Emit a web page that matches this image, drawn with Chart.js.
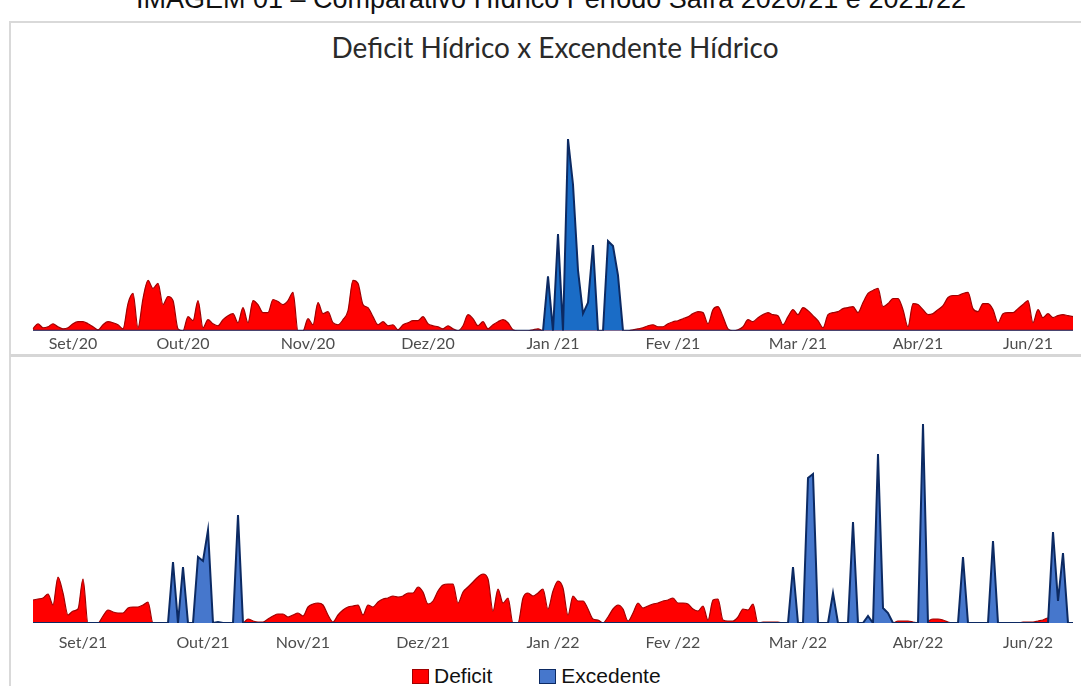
<!DOCTYPE html>
<html>
<head>
<meta charset="utf-8">
<script src="https://cdn.jsdelivr.net/npm/chart.js@4.4.1/dist/chart.umd.min.js"></script>
<style>
html,body{margin:0;padding:0;width:1081px;height:686px;overflow:hidden;background:#fff;}
#caption{position:absolute;left:0;width:1102px;top:-16px;text-align:center;font:27px "Liberation Sans",Arial,sans-serif;color:#111;white-space:nowrap;line-height:31px;}
#frame{position:absolute;left:9px;top:21px;width:1080px;height:700px;border-left:2px solid #d9d9d9;border-top:2px solid #d9d9d9;}
#title{position:absolute;left:0;width:1110px;top:33px;text-align:center;font:28px Lato,sans-serif;line-height:28px;color:#2a2a2a;white-space:nowrap;}
#sep{position:absolute;left:10px;top:354px;width:1071px;height:3px;background:#d6d6d6;}
#c1{position:absolute;left:0;top:0;width:1081px;height:360px;}
#c2{position:absolute;left:0;top:358px;width:1081px;height:300px;}
#legend{position:absolute;left:412px;top:665px;height:22px;display:flex;align-items:center;font:21px "Liberation Sans",Arial,sans-serif;color:#111;white-space:nowrap;}
#legend .item{display:flex;align-items:center;margin-right:47px;}
#legend .box{width:15px;height:13px;margin-right:5px;border-width:1.5px;border-style:solid;}
</style>
</head>
<body>
<div id="caption">IMAGEM 01 – Comparativo Hídrico Período Safra 2020/21 e 2021/22</div>
<div id="frame"></div>
<div id="title">Deficit Hídrico x Excendente Hídrico</div>
<div id="sep"></div>
<div id="c1"><canvas id="chart1"></canvas></div>
<div id="c2"><canvas id="chart2"></canvas></div>
<div id="legend"></div>
<script>
// ---- Safra 2020/21 (painel superior) ----
const topDeficit = [
  2,7,3,4,7,4,2,3,7,9,
  9,7,4,1,6,9,8,6,2,27,
  37,3,32,50,42,47,26,34,30,2,
  0,14,10,30,3,11,7,5,11,15,
  17,8,23,8,30,26,18,18,31,29,
  26,30,38,0,0,12,6,28,17,19,
  8,6,11,20,50,47,26,23,14,6,
  9,5,6,1,6,8,10,10,14,7,
  5,4,2,5,2,0,5,16,12,5,
  9,2,6,9,11,8,1,0,0,0,
  1,2,0,0,0,0,0,0,0,0,
  0,0,0,0,0,0,0,0,0,0,
  1,2,3,5,6,4,4,7,9,10,
  12,14,17,19,18,7,21,24,14,2,
  0,1,4,11,9,13,16,18,16,15,
  6,14,21,16,23,20,15,10,3,16,
  18,19,22,23,24,18,28,37,40,42,
  24,27,32,32,21,4,27,26,21,16,
  17,21,25,33,35,35,37,38,22,19,
  27,27,21,8,17,18,18,22,26,30,
  8,21,13,17,13,15,16,15,14
];
const topExcedente = [
  0,0,0,0,0,0,0,0,0,0,
  0,0,0,0,0,0,0,0,0,0,
  0,0,0,0,0,0,0,0,0,0,
  0,0,0,0,0,0,0,0,0,0,
  0,0,0,0,0,0,0,0,0,0,
  0,0,0,0,0,0,0,0,0,0,
  0,0,0,0,0,0,0,0,0,0,
  0,0,0,0,0,0,0,0,0,0,
  0,0,0,0,0,0,0,0,0,0,
  0,0,0,0,0,0,0,0,0,0,
  0,0,0,54,0,96,0,190,145,60,
  17,28,85,0,0,89,84,55,0,0,
  0,0,0,0,0,0,0,0,0,0,
  0,0,0,0,0,0,0,0,0,0,
  0,0,0,0,0,0,0,0,0,0,
  0,0,0,0,0,0,0,0,0,0,
  0,0,0,0,0,0,0,0,0,0,
  0,0,0,0,0,0,0,0,0,0,
  0,0,0,0,0,0,0,0,0,0,
  0,0,0,0,0,0,0,0,0,0,
  0,0,0,0,0,0,0,0,0
];
const topTickIdx = [8, 30, 55, 79, 104, 128, 153, 177, 199];
const topTickLabels = ['Set/20', 'Out/20', 'Nov/20', 'Dez/20', 'Jan /21', 'Fev /21', 'Mar /21', 'Abr/21', 'Jun/21'];

// ---- Safra 2021/22 (painel inferior) ----
const bottomDeficit = [
  23,24,25,29,18,46,30,8,12,14,
  44,0,0,0,7,13,11,10,10,15,
  16,16,18,21,0,0,0,0,0,0,
  0,0,0,0,0,0,0,0,0,0,
  0,0,0,4,2,1,1,4,7,9,
  9,6,8,10,7,16,19,20,18,8,
  1,8,13,16,17,18,8,18,16,21,
  24,25,27,26,27,30,30,36,31,19,
  22,32,38,39,39,20,31,36,41,46,
  49,44,12,34,20,25,0,0,25,30,
  27,30,34,14,32,42,35,8,27,22,
  22,14,4,3,0,6,14,18,14,2,
  10,20,15,17,19,20,22,23,25,20,
  20,19,14,12,17,3,23,24,3,2,
  2,6,14,13,19,0,1,1,1,1,
  0,0,0,0,0,0,0,0,0,0,
  0,0,0,0,0,0,0,0,0,0,
  0,0,0,2,2,2,1,0,0,2,
  4,4,3,1,0,0,0,0,0,0,
  0,0,0,0,0,0,0,0,1,1,
  1,2,3,5,0,0,0,0,0
];
const bottomExcedente = [
  0,0,0,0,0,0,0,0,0,0,
  0,0,0,0,0,0,0,0,0,0,
  0,0,0,0,0,0,0,0,61,0,
  56,0,0,66,62,93,0,1,0,0,
  0,108,0,0,0,0,0,0,0,0,
  0,0,0,0,0,0,0,0,0,0,
  0,0,0,0,0,0,0,0,0,0,
  0,0,0,0,0,0,0,0,0,0,
  0,0,0,0,0,0,0,0,0,0,
  0,0,0,0,0,0,0,0,0,0,
  0,0,0,0,0,0,0,0,0,0,
  0,0,0,0,0,0,0,0,0,0,
  0,0,0,0,0,0,0,0,0,0,
  0,0,0,0,0,0,0,0,0,0,
  0,0,0,0,0,0,0,0,0,0,
  0,0,56,0,0,145,149,0,0,0,
  30,0,0,0,101,0,0,7,0,169,
  15,10,0,0,0,0,0,0,199,0,
  0,0,0,0,0,0,66,0,0,0,
  0,0,82,0,0,0,0,0,0,0,
  0,0,0,0,91,22,70,0,0
];
const bottomTickIdx = [10, 34, 54, 78, 104, 128, 153, 177, 199];
const bottomTickLabels = ['Set/21', 'Out/21', 'Nov/21', 'Dez/21', 'Jan /22', 'Fev /22', 'Mar /22', 'Abr/22', 'Jun/22'];

const categories = topDeficit.map((_, i) => i);

const RED = '#ff0000', RED_BORDER = '#a00000';
const NAVY = '#0c2a63';
const BLUE_TOP = '#1a6cc6', BLUE_BOTTOM = '#4677cc';

function tickMap(idx, labels) {
  const m = {};
  idx.forEach((k, j) => { m[k] = labels[j]; });
  return m;
}

function makeChart(canvasId, deficit, excedente, tickIdx, tickLabels, blue, yMax, pad, tickPad, axisH) {
  const map = tickMap(tickIdx, tickLabels);
  return new Chart(document.getElementById(canvasId), {
    type: 'line',
    data: {
      labels: categories,
      datasets: [
        {
          label: 'Excedente', data: excedente, fill: 'origin',
          backgroundColor: blue, borderColor: NAVY, borderWidth: 2,
          tension: 0, pointRadius: 0
        },
        {
          label: 'Deficit', data: deficit, fill: 'origin',
          backgroundColor: RED, borderColor: RED_BORDER, borderWidth: 1.2,
          cubicInterpolationMode: 'monotone', pointRadius: 0
        }
      ]
    },
    options: {
      responsive: true, maintainAspectRatio: false, animation: false,
      layout: { padding: pad },
      plugins: {
        legend: { display: false },
        tooltip: { enabled: false },
        title: { display: false }
      },
      scales: {
        x: {
          type: 'category',
          grid: { display: false, drawTicks: false },
          border: { display: false },
          afterFit: axisH ? (s) => { s.height = axisH; } : undefined,
          ticks: {
            autoSkip: false, maxRotation: 0, minRotation: 0, padding: tickPad,
            color: '#4d4d4d', font: { family: 'Lato, sans-serif', size: 16 },
            callback: (v, i) => (map[i] !== undefined ? map[i] : null)
          }
        },
        y: { display: false, min: 0, max: yMax }
      }
    }
  });
}

makeChart('chart1', topDeficit, topExcedente, topTickIdx, topTickLabels, BLUE_TOP, 200,
  { left: 33, right: 8, top: 129, bottom: 4 }, 3, 0);
const chart2 = makeChart('chart2', bottomDeficit, bottomExcedente, bottomTickIdx, bottomTickLabels, BLUE_BOTTOM, 210,
  { left: 33, right: 8, top: 55, bottom: 5 }, 10, 30);

// HTML legend built from the chart's own legend items (Deficit first)
const items = Chart.defaults.plugins.legend.labels.generateLabels(chart2).reverse();
const legendEl = document.getElementById('legend');
items.forEach((it) => {
  const item = document.createElement('div');
  item.className = 'item';
  const box = document.createElement('span');
  box.className = 'box';
  box.style.background = it.fillStyle;
  box.style.borderColor = it.strokeStyle;
  const txt = document.createElement('span');
  txt.textContent = it.text;
  item.appendChild(box);
  item.appendChild(txt);
  legendEl.appendChild(item);
});
</script>
</body>
</html>
